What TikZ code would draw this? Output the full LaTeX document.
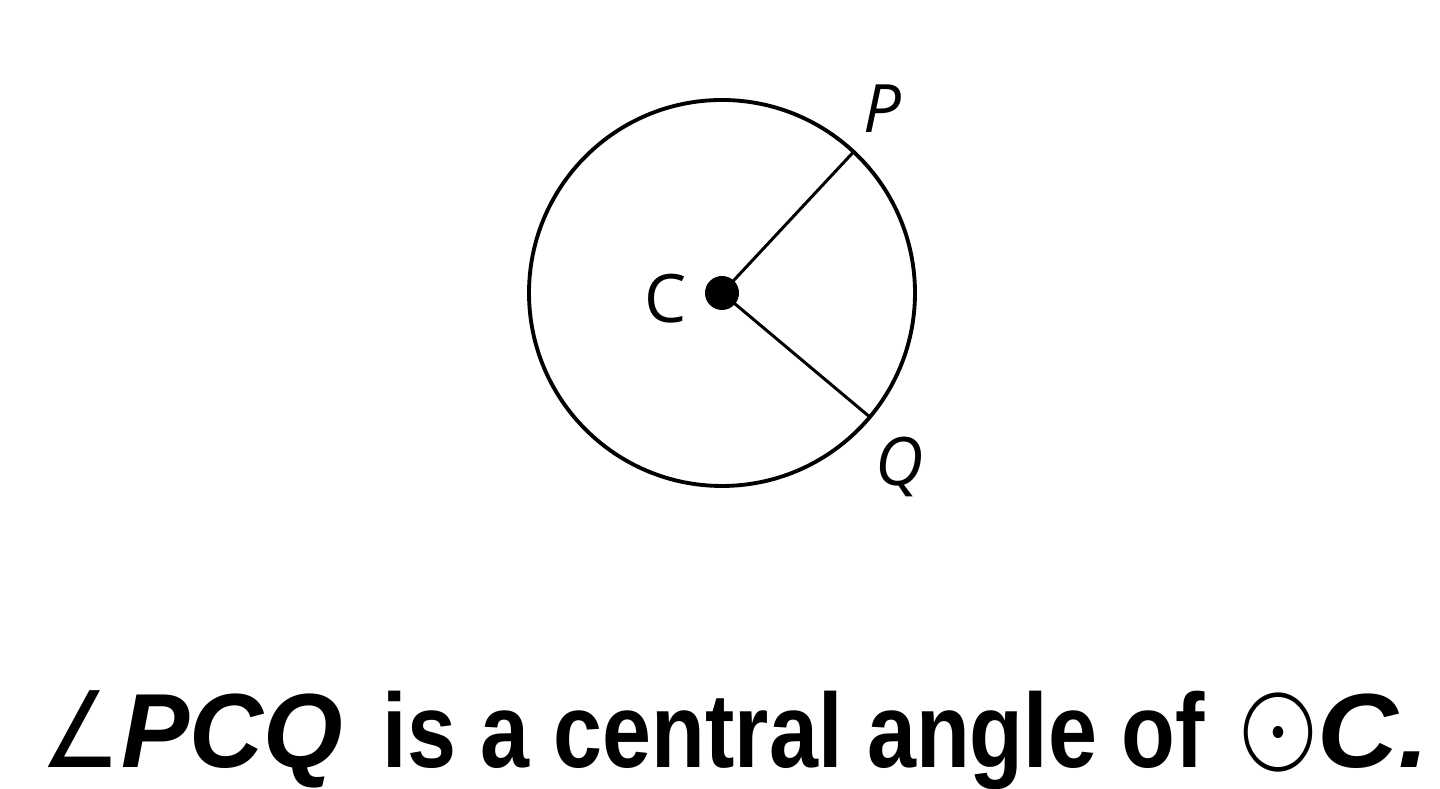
\documentclass[tikz,border=0pt]{standalone}
\usepackage{fontspec}
\setmainfont{Liberation Sans}
\newfontfamily\etiqueta{Open Sans}
\newfontfamily\simbolos{DejaVu Sans}
\newfontfamily\matsim{latinmodern-math.otf}
\usetikzlibrary{positioning,calc}

\begin{document}
\begin{tikzpicture}[
    punto/.style={font=\etiqueta\fontsize{19}{22}\selectfont},
    radio/.style={line width=0.85pt}
  ]
   	\useasboundingbox (0,0) rectangle (14.40,7.89);

	%Circulo de centro C
   	\coordinate (C) at (7.22,4.96);
   	\draw[line width=1.1pt] (C) circle (1.93);
   	\coordinate (P) at ($(C)+(47:1.93)$);
   	\coordinate (Q) at ($(C)+(-40:1.93)$);

	%Radios CP y CQ
   	\draw[radio] (C) -- (P);
   	\draw[radio] (C) -- (Q);
   	\fill (C) circle (0.17);

	%Etiquetas
   	\node[punto] (lp) at (8.82,6.80) {\itshape P};
   	\node[punto] (lc) at (6.66,4.90) {C};
   	\node[punto] (lq) at (9.00,3.22) {\itshape Q};

	%Texto inferior
   	\node[anchor=base west, inner sep=0pt, font=\bfseries\fontsize{30}{34}\selectfont] (texto) at (0.40,0.21)
   		{\scalebox{0.85}[1]{\simbolos\mdseries ∠}\scalebox{0.97}[1]{\itshape PCQ}\hspace{0.38em}%
   		 \scalebox{0.835}[1]{is a central angle of}\hspace{0.33em}%
   		 \raisebox{0.06em}{\scalebox{0.95}[1.1]{\matsim ⊙}}\scalebox{1.06}[1]{\itshape C.}};
\end{tikzpicture}
\end{document}
